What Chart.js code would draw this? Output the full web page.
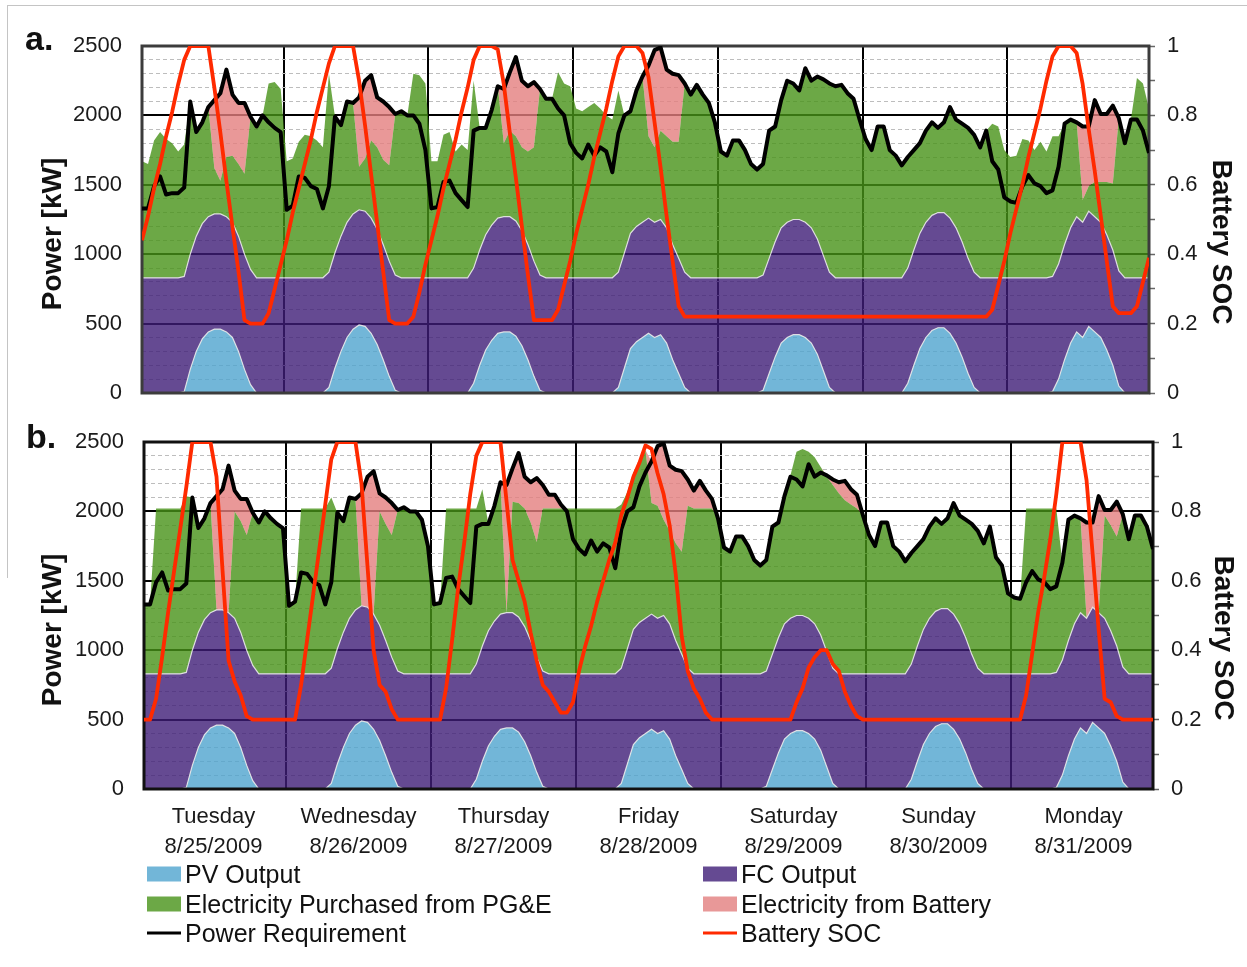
<!DOCTYPE html>
<html lang="en">
<head>
<meta charset="UTF-8">
<title>Power dispatch 8/25 - 8/31/2009</title>
<script src="https://cdn.jsdelivr.net/npm/chart.js@4.4.1/dist/chart.umd.min.js"></script>
<style>
  body { margin:0; background:#fff; width:1247px; height:967px; position:relative; overflow:hidden;
         font-family:'Liberation Sans', Arial, sans-serif; color:#111; }
  canvas { position:absolute; left:0; }
  #chartA { top:0; }
  #chartB { top:400px; }
  .frame { position:absolute; left:7px; top:5px; width:1250px; height:572px;
           border-left:1px solid #c4c4c4; border-top:1px solid #c4c4c4; }
  .panel { position:absolute; font-weight:bold; font-size:34px; line-height:1; }
  .vtitle { position:absolute; font-weight:bold; font-size:28px; line-height:1; white-space:nowrap; }
  .li { position:absolute; display:flex; align-items:center; font-size:25px; line-height:1;
        transform:translateY(-50%); white-space:nowrap; }
  .sw { width:34px; height:15px; margin-right:4px; }
  .ln { width:34px; height:3px; margin-right:4px; }
</style>
</head>
<body>
<div class="frame"></div>
<canvas id="chartA" width="1247" height="430"></canvas>
<canvas id="chartB" width="1247" height="460"></canvas>

<div class="panel" style="left:25px; top:21px;">a.</div>
<div class="panel" style="left:26px; top:419px;">b.</div>

<div class="vtitle" style="left:52px; top:234px; transform:translate(-50%,-50%) rotate(-90deg);">Power [kW]</div>
<div class="vtitle" style="left:52px; top:630px; transform:translate(-50%,-50%) rotate(-90deg);">Power [kW]</div>
<div class="vtitle" style="left:1222px; top:242px; transform:translate(-50%,-50%) rotate(90deg);">Battery SOC</div>
<div class="vtitle" style="left:1224px; top:638px; transform:translate(-50%,-50%) rotate(90deg);">Battery SOC</div>

<div class="li" style="left:147px; top:874px;"><span class="sw" style="background:#72b6d8"></span>PV Output</div>
<div class="li" style="left:147px; top:904px;"><span class="sw" style="background:#6ca846"></span>Electricity Purchased from PG&amp;E</div>
<div class="li" style="left:147px; top:933px;"><span class="ln" style="background:#000"></span>Power Requirement</div>
<div class="li" style="left:703px; top:874px;"><span class="sw" style="background:#654a92"></span>FC Output</div>
<div class="li" style="left:703px; top:904px;"><span class="sw" style="background:#e89898"></span>Electricity from Battery</div>
<div class="li" style="left:703px; top:933px;"><span class="ln" style="background:#ff2a00"></span>Battery SOC</div>

<script>
// hourly values, one row per day (Tue 8/25 ... Mon 8/31)
const dayNames = ['Tuesday', 'Wednesday', 'Thursday', 'Friday', 'Saturday', 'Sunday', 'Monday'];
const dayDates = ['8/25/2009', '8/26/2009', '8/27/2009', '8/28/2009', '8/29/2009', '8/30/2009', '8/31/2009'];

const pvOutput = [
  0,0,0,0,0,0,0,10,170,300,390,440,460,460,440,400,300,170,60,0,0,0,0,0,
  0,0,0,0,0,0,0,40,180,300,400,460,490,480,430,350,240,120,20,0,0,0,0,0,
  0,0,0,0,0,0,0,70,200,310,380,430,440,440,410,340,240,120,20,0,0,0,0,0,
  0,0,0,0,0,0,0,40,180,320,370,400,430,400,420,360,240,140,40,0,0,0,0,0,
  0,0,0,0,0,0,0,20,140,260,360,400,420,420,400,360,280,160,40,0,0,0,0,0,
  0,0,0,0,0,0,0,70,200,320,400,450,470,470,430,360,260,140,40,0,0,0,0,0,
  0,0,0,0,0,0,0,10,100,240,360,440,400,480,440,400,310,200,50,0,0,0,0,0
];

const fcOutput = [
  830,830,830,830,830,830,830,830,830,830,830,830,830,830,830,830,830,830,830,830,830,830,830,830,
  830,830,830,830,830,830,830,830,830,830,830,830,830,830,830,830,830,830,830,830,830,830,830,830,
  830,830,830,830,830,830,830,830,830,830,830,830,830,830,830,830,830,830,830,830,830,830,830,830,
  830,830,830,830,830,830,830,830,830,830,830,830,830,830,830,830,830,830,830,830,830,830,830,830,
  830,830,830,830,830,830,830,830,830,830,830,830,830,830,830,830,830,830,830,830,830,830,830,830,
  830,830,830,830,830,830,830,830,830,830,830,830,830,830,830,830,830,830,830,830,830,830,830,830,
  830,830,830,830,830,830,830,830,830,830,830,830,830,830,830,830,830,830,830,830,830,830,830,830
];

const powerRequirement = [
  1330,1330,1490,1560,1430,1440,1440,1480,2100,1880,1950,2060,2110,2160,2330,2150,2090,2090,1990,1920,2000,1950,1910,1880,
  1320,1350,1560,1550,1490,1470,1330,1490,1990,1930,2100,2090,2130,2250,2290,2130,2100,2060,2010,2030,2000,2000,1940,1750,
  1330,1340,1520,1530,1440,1390,1340,1890,1910,1910,2040,2210,2190,2310,2420,2250,2210,2240,2190,2120,2120,2050,2000,1800,
  1730,1690,1790,1710,1770,1740,1590,1870,2000,2030,2180,2280,2360,2470,2490,2330,2300,2290,2230,2150,2220,2150,2090,1950,
  1740,1710,1820,1820,1750,1650,1610,1650,1890,1920,2110,2250,2230,2180,2340,2250,2280,2260,2230,2210,2220,2160,2120,1970,
  1830,1750,1920,1920,1750,1710,1640,1700,1750,1800,1890,1950,1910,1950,2060,1970,1940,1910,1860,1770,1890,1670,1610,1410,
  1380,1370,1490,1570,1510,1490,1440,1460,1630,1940,1970,1950,1920,1920,2110,2010,2010,2070,1980,1800,1970,1970,1890,1730
];

// panel a
const gridA = [
  840,820,990,1050,1000,970,910,950,1100,750,730,790,330,240,430,480,520,580,1100,1090,1170,1400,1410,1360,
  840,860,980,1030,1020,990,940,1430,980,800,870,800,310,380,560,590,610,690,1160,1200,1170,1470,1460,1400,
  840,840,1030,1050,910,960,920,1350,880,770,830,950,530,620,610,600,670,820,1340,1290,1290,1480,1400,1380,
  1220,1200,1230,1260,1220,1170,1140,1310,990,880,980,1050,590,540,640,660,740,840,1360,1320,1390,1320,1260,1120,
  910,880,990,990,920,820,780,800,920,830,920,1020,980,930,1110,1060,1170,1270,1360,1380,1390,1330,1290,1140,
  1000,920,1090,1090,920,880,810,800,720,650,660,670,610,650,800,780,850,940,990,940,1060,1110,1090,920,
  870,880,1000,990,920,980,910,1010,920,870,780,680,160,180,250,290,380,480,1100,970,1140,1440,1400,1220
];
const batteryA = [
  0,0,0,0,0,0,0,0,0,0,0,0,490,630,630,440,440,510,0,0,0,0,0,0,
  0,0,0,0,0,0,0,0,0,0,0,0,500,560,470,360,420,420,0,0,0,0,0,0,
  0,0,0,0,0,0,0,0,0,0,0,0,390,420,570,480,470,470,0,0,0,0,0,0,
  0,0,0,0,0,0,0,0,0,0,0,0,510,700,600,480,490,480,0,0,0,0,0,0,
  0,0,0,0,0,0,0,0,0,0,0,0,0,0,0,0,0,0,0,0,0,0,0,0,
  0,0,0,0,0,0,0,0,0,0,0,0,0,0,0,0,0,0,0,0,0,0,0,0,
  0,0,0,0,0,0,0,0,0,0,0,0,530,430,590,490,490,560,0,0,0,0,0,0
];
const socA = [
  0.44,0.51,0.59,0.66,0.74,0.81,0.89,0.96,1,1,1,1,0.88,0.75,0.61,0.48,0.35,0.21,0.2,0.2,0.2,0.23,0.30,0.37,
  0.44,0.52,0.59,0.66,0.73,0.81,0.88,0.95,1,1,1,1,0.90,0.77,0.63,0.49,0.35,0.21,0.2,0.2,0.2,0.22,0.29,0.37,
  0.44,0.51,0.59,0.66,0.73,0.81,0.88,0.96,1,1,1,0.99,0.89,0.75,0.62,0.48,0.34,0.21,0.21,0.21,0.21,0.24,0.31,0.38,
  0.46,0.53,0.60,0.68,0.75,0.82,0.90,0.97,1,1,1,0.98,0.91,0.78,0.65,0.51,0.38,0.25,0.22,0.22,0.22,0.22,0.22,0.22,
  0.22,0.22,0.22,0.22,0.22,0.22,0.22,0.22,0.22,0.22,0.22,0.22,0.22,0.22,0.22,0.22,0.22,0.22,0.22,0.22,0.22,0.22,0.22,0.22,
  0.22,0.22,0.22,0.22,0.22,0.22,0.22,0.22,0.22,0.22,0.22,0.22,0.22,0.22,0.22,0.22,0.22,0.22,0.22,0.22,0.22,0.24,0.31,0.38,
  0.46,0.53,0.60,0.68,0.75,0.82,0.90,0.97,1,1,1,0.98,0.89,0.76,0.64,0.51,0.38,0.25,0.23,0.23,0.23,0.25,0.32,0.39
];

// panel b
const gridB = [
  500,500,1190,1190,1190,1190,1190,1270,1100,750,730,790,0,0,0,770,800,830,1100,1090,1170,1120,1080,1050,
  490,520,1190,1190,1190,1190,1190,1230,980,800,870,800,0,0,0,820,840,880,1160,1200,1170,1170,1110,920,
  500,510,1190,1190,1190,1190,1190,1120,1130,770,830,950,0,800,820,850,850,830,1170,1190,1190,1190,1190,1190,
  1190,1190,1190,1190,1190,1190,1190,1180,1130,1130,1150,1210,800,810,690,670,700,740,1170,1190,1190,1190,1190,1120,
  910,880,990,990,920,820,780,800,920,830,920,1030,1180,1200,1200,1200,1210,1260,1320,1300,1250,1220,1190,1140,
  1000,920,1090,1090,920,880,810,800,720,650,660,670,610,650,800,780,850,940,990,940,1060,840,780,580,
  550,540,1190,1190,1190,1190,1190,1180,700,870,780,680,0,0,0,740,760,790,1100,970,1140,1140,1060,900
];
const batteryB = [
  0,0,0,0,0,0,0,0,0,0,0,0,820,870,1060,150,160,260,0,0,0,0,0,0,
  0,0,0,0,0,0,0,0,0,0,0,0,810,940,1030,130,190,230,0,0,0,0,0,0,
  0,0,0,0,0,0,0,0,0,0,0,0,920,240,360,230,290,460,170,100,100,30,0,0,
  0,0,0,0,0,0,0,0,0,0,0,0,300,430,550,470,530,580,190,130,200,130,70,0,
  0,0,0,0,0,0,0,0,0,0,0,0,0,0,0,0,0,10,40,80,140,110,100,0,
  0,0,0,0,0,0,0,0,0,0,0,0,0,0,0,0,0,0,0,0,0,0,0,0,
  0,0,0,0,0,0,0,0,0,0,0,0,690,610,840,40,110,250,0,0,0,0,0,0
];
const socB = [
  0.2,0.2,0.26,0.38,0.51,0.63,0.75,0.87,1,1,1,1,0.90,0.63,0.37,0.31,0.27,0.21,0.2,0.2,0.2,0.2,0.2,0.2,
  0.2,0.2,0.30,0.43,0.56,0.69,0.82,0.95,1,1,1,1,0.88,0.64,0.40,0.30,0.28,0.23,0.2,0.2,0.2,0.2,0.2,0.2,
  0.2,0.2,0.29,0.43,0.58,0.71,0.85,0.96,1,1,1,1,0.83,0.66,0.60,0.54,0.45,0.37,0.30,0.28,0.25,0.22,0.22,0.25,
  0.34,0.41,0.47,0.54,0.60,0.66,0.71,0.79,0.84,0.90,0.94,0.99,0.98,0.91,0.85,0.76,0.62,0.44,0.34,0.29,0.26,0.22,0.2,0.2,
  0.2,0.2,0.2,0.2,0.2,0.2,0.2,0.2,0.2,0.2,0.2,0.2,0.25,0.29,0.35,0.38,0.40,0.40,0.36,0.34,0.28,0.24,0.21,0.2,
  0.2,0.2,0.2,0.2,0.2,0.2,0.2,0.2,0.2,0.2,0.2,0.2,0.2,0.2,0.2,0.2,0.2,0.2,0.2,0.2,0.2,0.2,0.2,0.2,
  0.2,0.2,0.27,0.39,0.51,0.61,0.72,0.85,1,1,1,1,0.89,0.68,0.46,0.26,0.25,0.21,0.2,0.2,0.2,0.2,0.2,0.2
];

const HOURS_PER_DAY = 24;
const pts = arr => arr.map((v, i) => ({ x: i + 0.5, y: v }));
const tickFont = { family: "'Liberation Sans', Arial, sans-serif", size: 22 };

// plot frame drawn after the areas, before the two lines
const framePlugin = {
  id: 'frame',
  afterDatasetDraw(chart, args, opts) {
    if (args.index !== 0) return;
    const { ctx, chartArea: a } = chart;
    ctx.save();
    ctx.strokeStyle = opts.color;
    ctx.lineWidth = opts.width;
    ctx.strokeRect(a.left, a.top, a.right - a.left, a.bottom - a.top);
    ctx.restore();
  }
};

function buildChart(id, grid, battery, soc, geo) {
  const scales = {
    x: {
      type: 'linear', min: 0.5, max: 167.5,
      afterBuildTicks: axis => {
        axis.ticks = dayNames.slice(1).map((_, k) => ({ value: (k + 1) * HOURS_PER_DAY }));
      },
      ticks: { display: false },
      grid: { color: '#000', lineWidth: 2, drawTicks: false },
      border: { display: false },
      afterFit: s => { s.height = 0; }
    },
    y: {
      stacked: true, min: 0, max: 2500,
      ticks: {
        stepSize: 100, autoSkip: false, padding: 20, color: '#1a1a1a', font: tickFont,
        callback: v => (v % 500 === 0 ? String(v) : '')
      },
      grid: {
        drawTicks: false,
        color: c => (c.tick && c.tick.value % 500 === 0 ? '#000' : '#bdbdbd'),
        lineWidth: c => (c.tick && c.tick.value % 500 === 0 ? 2 : 1)
      },
      border: { display: false, dash: c => (c.tick && c.tick.value % 500 !== 0 ? [4, 3] : []) },
      afterFit: s => { s.width = geo.left; }
    },
    y2: {
      position: 'right', min: 0, max: 1,
      ticks: {
        stepSize: 0.1, autoSkip: false, padding: 12, color: '#1a1a1a', font: tickFont,
        callback: v => (Math.round(v * 10) % 2 === 0 ? String(Math.round(v * 10) / 10) : '')
      },
      grid: { drawOnChartArea: false, drawTicks: true, tickLength: 6, tickColor: '#666', tickWidth: 1.5 },
      border: { display: false },
      afterFit: s => { s.width = geo.right; }
    }
  };
  if (geo.days) {
    scales.xd = {
      type: 'linear', axis: 'x', position: 'bottom', min: 0.5, max: 167.5,
      afterBuildTicks: axis => {
        axis.ticks = dayNames.map((_, k) => ({ value: k * HOURS_PER_DAY + HOURS_PER_DAY / 2 }));
      },
      ticks: {
        autoSkip: false, maxRotation: 0, padding: 5, color: '#1a1a1a',
        font: { family: tickFont.family, size: 22, lineHeight: 1.36 },
        callback: v => {
          const k = Math.round((v - HOURS_PER_DAY / 2) / HOURS_PER_DAY);
          return [dayNames[k], dayDates[k]];
        }
      },
      grid: { display: false },
      border: { display: false },
      afterFit: s => { s.height = geo.days; }
    };
  }

  const area = (label, data, color, fill, edge) => ({
    label, data: pts(data), fill,
    backgroundColor: color,
    borderColor: edge ? 'rgba(232,232,232,0.9)' : 'rgba(0,0,0,0)',
    borderWidth: edge ? 1.2 : 0,
    pointRadius: 0, tension: 0, order: 3, stack: 'supply'
  });

  return new Chart(document.getElementById(id), {
    type: 'line',
    data: {
      datasets: [
        area('PV Output', pvOutput, 'rgba(79,164,206,0.8)', 'origin', true),
        area('FC Output', fcOutput, 'rgba(63,29,119,0.8)', '-1', true),
        area('Electricity Purchased from PG&E', grid, 'rgba(71,146,24,0.8)', '-1', false),
        area('Electricity from Battery', battery, 'rgba(228,126,126,0.8)', '-1', false),
        {
          label: 'Power Requirement', data: pts(powerRequirement), stack: 'load', order: 1,
          borderColor: '#000', borderWidth: 4, fill: false, pointRadius: 0, tension: 0,
          borderJoinStyle: 'round'
        },
        {
          label: 'Battery SOC', data: pts(soc), yAxisID: 'y2', order: 0,
          borderColor: '#ff2a00', borderWidth: 3.8, fill: false, pointRadius: 0, tension: 0,
          borderJoinStyle: 'round'
        }
      ]
    },
    options: {
      responsive: false,
      animation: false,
      events: [],
      layout: { padding: { top: geo.top, bottom: geo.bottom, left: 0, right: 0 } },
      plugins: {
        legend: { display: false },
        title: { display: false },
        tooltip: { enabled: false },
        frame: { color: geo.frame, width: 3 }
      },
      scales
    },
    plugins: [framePlugin]
  });
}

// bottom padding of panel a leaves room for the y tick padding below the plot
buildChart('chartA', gridA, batteryA, socA,
  { top: 46, bottom: 37, left: 142, right: 98, frame: '#3c3c3c', days: 0 });
buildChart('chartB', gridB, batteryB, socB,
  { top: 42, bottom: 0, left: 144, right: 94, frame: '#111', days: 71 });
</script>
</body>
</html>
